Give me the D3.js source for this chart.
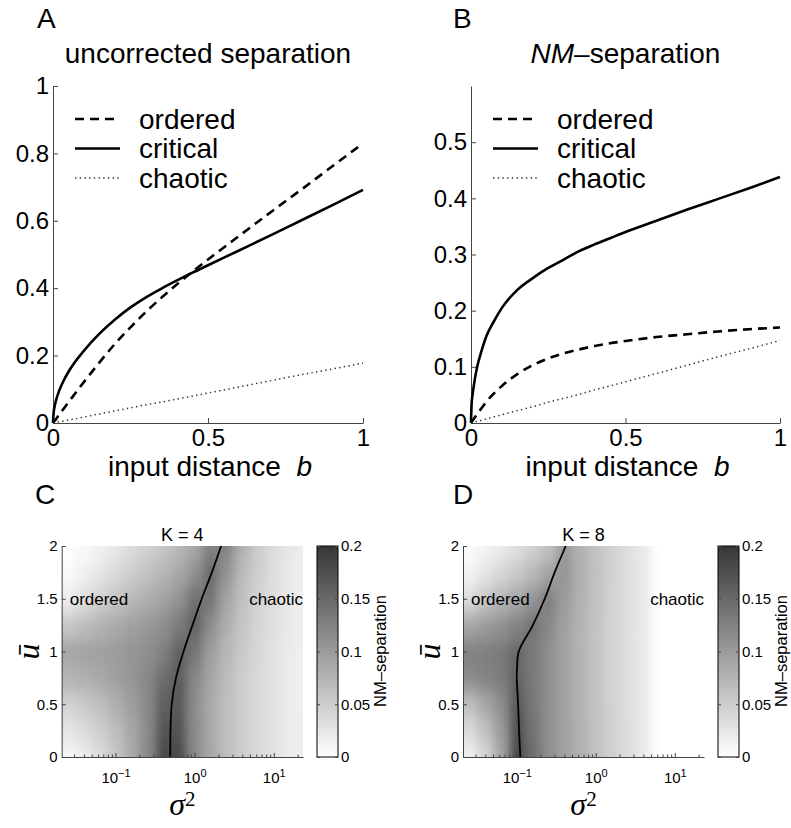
<!DOCTYPE html>
<html>
<head>
<meta charset="utf-8">
<script src="https://cdn.jsdelivr.net/npm/d3@7"></script>
<style>
  body { margin: 0; background: #fff; }
  text { font-family: "Liberation Sans", Arial, Helvetica, sans-serif; fill: #000; }
  .serif { font-family: "Liberation Serif", "DejaVu Serif", serif; font-style: italic; }
</style>
</head>
<body>
<script>
// ---- data ----
const bValues    = [0, 0.002, 0.005, 0.01, 0.02, 0.035, 0.05, 0.075, 0.1, 0.15, 0.2, 0.25, 0.3, 0.35, 0.4, 0.45, 0.5, 0.6, 0.7, 0.8, 0.9, 1];
const aOrdered   = [0, 0.003, 0.006, 0.012, 0.025, 0.043, 0.062, 0.092, 0.122, 0.18, 0.235, 0.284, 0.33, 0.372, 0.412, 0.449, 0.485, 0.555, 0.624, 0.692, 0.761, 0.83];
const aCritical  = [0, 0.03, 0.048, 0.068, 0.096, 0.127, 0.152, 0.186, 0.215, 0.265, 0.307, 0.343, 0.373, 0.399, 0.423, 0.446, 0.468, 0.512, 0.556, 0.601, 0.646, 0.692];
const aChaotic   = [0, 0.0004, 0.0009, 0.0018, 0.0036, 0.0062, 0.009, 0.013, 0.018, 0.027, 0.036, 0.045, 0.054, 0.062, 0.071, 0.080, 0.089, 0.107, 0.125, 0.143, 0.160, 0.178];
const bOrdered   = [0, 0.0015, 0.004, 0.008, 0.016, 0.027, 0.038, 0.053, 0.066, 0.087, 0.103, 0.115, 0.124, 0.131, 0.137, 0.142, 0.146, 0.153, 0.158, 0.163, 0.167, 0.17];
const bCritical  = [0, 0.035, 0.05, 0.07, 0.10, 0.13, 0.155, 0.182, 0.205, 0.237, 0.258, 0.276, 0.291, 0.306, 0.318, 0.329, 0.34, 0.36, 0.38, 0.399, 0.418, 0.438];
const bChaotic   = [0, 0.0003, 0.0007, 0.0015, 0.003, 0.005, 0.0074, 0.011, 0.0147, 0.022, 0.029, 0.037, 0.044, 0.051, 0.059, 0.066, 0.0735, 0.088, 0.103, 0.118, 0.132, 0.147];
const seriesNames = ["ordered", "critical", "chaotic"];
const ticksA = [0, 0.2, 0.4, 0.6, 0.8, 1];
const ticksB = [0, 0.1, 0.2, 0.3, 0.4, 0.5];
const ticksX = [0, 0.5, 1];

// heat maps: columns are log10(sigma^2), rows are u-bar
const sigmaExp = [-1.6, -1.4, -1.2, -1.0, -0.8, -0.6, -0.4, -0.2, 0.0, 0.2, 0.4, 0.6, 0.8, 1.0, 1.2, 1.4];
const uRows = [0, 0.25, 0.5, 0.75, 1, 1.25, 1.5, 1.75, 2];
const heatK4 = [
  [0.008, 0.018, 0.035, 0.055, 0.085, 0.118, 0.18, 0.18, 0.118, 0.088, 0.066, 0.05, 0.038, 0.028, 0.02, 0.015],
  [0.025, 0.035, 0.048, 0.065, 0.088, 0.115, 0.17, 0.172, 0.115, 0.087, 0.066, 0.05, 0.038, 0.028, 0.02, 0.015],
  [0.045, 0.053, 0.065, 0.08, 0.097, 0.118, 0.158, 0.165, 0.115, 0.086, 0.065, 0.05, 0.038, 0.028, 0.02, 0.014],
  [0.075, 0.08, 0.086, 0.095, 0.105, 0.118, 0.145, 0.163, 0.12, 0.09, 0.068, 0.05, 0.038, 0.028, 0.02, 0.014],
  [0.09, 0.092, 0.095, 0.1, 0.105, 0.112, 0.125, 0.158, 0.138, 0.098, 0.073, 0.054, 0.04, 0.029, 0.02, 0.014],
  [0.055, 0.065, 0.075, 0.085, 0.095, 0.103, 0.112, 0.13, 0.158, 0.115, 0.082, 0.058, 0.042, 0.031, 0.022, 0.015],
  [0.018, 0.032, 0.046, 0.058, 0.07, 0.08, 0.092, 0.107, 0.142, 0.138, 0.092, 0.063, 0.045, 0.032, 0.022, 0.015],
  [0.006, 0.014, 0.025, 0.037, 0.05, 0.062, 0.073, 0.087, 0.108, 0.148, 0.108, 0.07, 0.048, 0.033, 0.022, 0.015],
  [0.0, 0.006, 0.014, 0.023, 0.034, 0.045, 0.056, 0.07, 0.088, 0.125, 0.125, 0.079, 0.052, 0.035, 0.024, 0.016]
];
const heatK8 = [
  [0.015, 0.04, 0.09, 0.185, 0.145, 0.112, 0.094, 0.078, 0.062, 0.047, 0.034, 0.022, 0, 0, 0, 0],
  [0.035, 0.062, 0.1, 0.175, 0.14, 0.112, 0.094, 0.078, 0.062, 0.047, 0.034, 0.022, 0, 0, 0, 0],
  [0.065, 0.088, 0.112, 0.165, 0.135, 0.112, 0.093, 0.076, 0.06, 0.045, 0.033, 0.022, 0, 0, 0, 0],
  [0.115, 0.122, 0.13, 0.155, 0.133, 0.112, 0.093, 0.076, 0.06, 0.045, 0.033, 0.022, 0, 0, 0, 0],
  [0.125, 0.127, 0.132, 0.15, 0.133, 0.112, 0.093, 0.076, 0.06, 0.045, 0.033, 0.022, 0, 0, 0, 0],
  [0.09, 0.1, 0.108, 0.122, 0.14, 0.118, 0.095, 0.076, 0.06, 0.045, 0.033, 0.022, 0, 0, 0, 0],
  [0.035, 0.056, 0.072, 0.088, 0.105, 0.128, 0.1, 0.078, 0.061, 0.045, 0.033, 0.022, 0, 0, 0, 0],
  [0.012, 0.025, 0.04, 0.054, 0.07, 0.09, 0.106, 0.08, 0.062, 0.046, 0.033, 0.022, 0, 0, 0, 0],
  [0.003, 0.011, 0.02, 0.031, 0.045, 0.062, 0.1, 0.078, 0.061, 0.046, 0.033, 0.022, 0, 0, 0, 0]
];
// critical lines (sigma^2 at each u-bar)
const critU_K4 = [0, 0.25, 0.5, 0.75, 1, 1.25, 1.5, 1.75, 2];
const critS_K4 = [0.492, 0.495, 0.513, 0.581, 0.724, 0.94, 1.23, 1.65, 2.16];
const critU_K8 = [0, 0.25, 0.5, 0.75, 0.85, 1, 1.25, 1.5, 1.75, 2];
const critS_K8 = [0.111, 0.107, 0.104, 0.1, 0.101, 0.106, 0.16, 0.226, 0.302, 0.417];
const uTicks = [0, 0.5, 1, 1.5, 2];
const sigmaTicks = [0.1, 1, 10];
const sigmaTickExp = ["\u22121", "0", "1"];
const cbTicks = [0, 0.05, 0.1, 0.15, 0.2];

// ---- drawing ----
const svg = d3.select("body").append("svg")
  .attr("width", 791).attr("height", 828);
svg.append("rect").attr("width", 791).attr("height", 828).attr("fill", "#fff");
const defs = svg.append("defs");
const axisColor = "#444";

function styleAxis(g, fs) {
  g.select(".domain").attr("stroke", axisColor);
  g.selectAll(".tick line").attr("stroke", axisColor);
  g.selectAll(".tick text").attr("font-size", fs).attr("fill", "#000")
    .style("font-family", '"Liberation Sans", Arial, sans-serif');
}

function linePanel(p) {
  const x = d3.scaleLinear().domain([0, 1]).range([p.x0, p.x1]);
  const y = d3.scaleLinear().domain([0, p.ymax]).range([p.y1, p.y0]);

  const gx = svg.append("g").attr("transform", "translate(0," + p.y1 + ")")
    .call(d3.axisBottom(x).tickValues(ticksX).tickSize(-5).tickSizeOuter(0).tickPadding(6)
      .tickFormat(d3.format("~g")));
  styleAxis(gx, "24px");
  const gy = svg.append("g").attr("transform", "translate(" + p.x0 + ",0)")
    .call(d3.axisLeft(y).tickValues(p.ticks).tickSize(-5).tickSizeOuter(0).tickPadding(4)
      .tickFormat(d3.format("~g")));
  styleAxis(gy, "24px");

  const line = d3.line().x((d, i) => x(bValues[i])).y(d => y(d)).curve(d3.curveMonotoneX);
  const styles = [
    {dash: "9,6", w: 2.6, c: "#000"},
    {dash: null, w: 2.6, c: "#000"},
    {dash: "1.4,3.3", w: 1.5, c: "#333"}
  ];
  p.series.forEach((s, i) => {
    svg.append("path").datum(s).attr("d", line).attr("fill", "none")
      .attr("stroke", styles[i].c).attr("stroke-width", styles[i].w)
      .attr("stroke-dasharray", styles[i].dash);
  });

  // legend
  seriesNames.forEach((name, i) => {
    const yy = 119 + i * 29.5;
    svg.append("line").attr("x1", p.legX).attr("x2", p.legX + 45).attr("y1", yy).attr("y2", yy)
      .attr("stroke", styles[i].c).attr("stroke-width", styles[i].w)
      .attr("stroke-dasharray", styles[i].dash);
    svg.append("text").attr("x", p.legX + 64).attr("y", yy).attr("dy", "0.35em")
      .attr("font-size", "28px").text(name);
  });

  svg.append("text").attr("x", p.letterX).attr("y", 28).attr("font-size", "28px").text(p.letter);
  const t = svg.append("text").attr("x", (p.x0 + p.x1) / 2).attr("y", 63)
    .attr("text-anchor", "middle").attr("font-size", "28px");
  if (p.italicTitle) {
    t.append("tspan").attr("font-style", "italic").text("NM");
    t.append("tspan").text("\u2013separation");
  } else {
    t.text(p.title);
  }
  const xl = svg.append("text").attr("x", (p.x0 + p.x1) / 2 + 2).attr("y", 476)
    .attr("text-anchor", "middle").attr("font-size", "28px");
  xl.append("tspan").text("input distance\u00a0\u00a0");
  xl.append("tspan").attr("font-style", "italic").text("b");
}

linePanel({x0: 53, x1: 363, y0: 86, y1: 423, ymax: 1, ticks: ticksA,
  series: [aOrdered, aCritical, aChaotic], legX: 75, letter: "A", letterX: 37,
  title: "uncorrected separation"});
linePanel({x0: 471, x1: 780, y0: 86, y1: 423, ymax: 0.6, ticks: ticksB,
  series: [bOrdered, bCritical, bChaotic], legX: 493, letter: "B", letterX: 453,
  italicTitle: true});

const gray = d3.scaleLinear().domain([0, 0.2]).range(["#ffffff", "#363636"]).clamp(true);

function heatPanel(p) {
  const x = d3.scaleLog().domain([0.0209, 23.4]).range([p.x0, p.x1]);
  const y = d3.scaleLinear().domain([0, 2]).range([757, 546]);
  const clipId = "clip" + p.letter;
  defs.append("clipPath").attr("id", clipId).append("rect")
    .attr("x", p.x0).attr("y", 546).attr("width", p.x1 - p.x0).attr("height", 757 - 546);
  const f = defs.append("filter").attr("id", "blur" + p.letter)
    .attr("x", "-10%").attr("y", "-10%").attr("width", "120%").attr("height", "120%");
  f.append("feGaussianBlur").attr("stdDeviation", "5 9").attr("edgeMode", "duplicate");

  const cells = [];
  p.values.forEach((row, r) => row.forEach((v, c) => {
    const e0 = c === 0 ? sigmaExp[c] - 0.5 : sigmaExp[c] - 0.1;
    const e1 = c === sigmaExp.length - 1 ? sigmaExp[c] + 0.5 : sigmaExp[c] + 0.1;
    const u0 = r === 0 ? uRows[r] - 0.5 : uRows[r] - 0.125;
    const u1 = r === uRows.length - 1 ? uRows[r] + 0.5 : uRows[r] + 0.125;
    cells.push({e0, e1, u0, u1, v});
  }));
  svg.append("g").attr("clip-path", "url(#" + clipId + ")")
    .append("g").attr("filter", "url(#blur" + p.letter + ")")
    .selectAll("rect").data(cells).join("rect")
      .attr("x", d => x(Math.pow(10, d.e0)))
      .attr("width", d => x(Math.pow(10, d.e1)) - x(Math.pow(10, d.e0)) + 0.5)
      .attr("y", d => y(d.u1))
      .attr("height", d => y(d.u0) - y(d.u1) + 0.5)
      .attr("fill", d => gray(d.v));

  // critical line
  const line = d3.line().x((d, i) => x(p.critS[i])).y(d => y(d)).curve(d3.curveCatmullRom);
  svg.append("path").datum(p.critU).attr("d", line).attr("fill", "none")
    .attr("stroke", "#000").attr("stroke-width", 1.8);

  // axes
  const gy = svg.append("g").attr("transform", "translate(" + p.x0 + ",0)")
    .call(d3.axisLeft(y).tickValues(uTicks).tickSize(-4).tickSizeOuter(0).tickPadding(4)
      .tickFormat(d3.format("~g")));
  styleAxis(gy, "15px");
  const minors = [];
  [0.01, 0.1, 1, 10].forEach(dec => d3.range(2, 10).forEach(k => {
    const v = dec * k; if (v > 0.0209 && v < 23.4) minors.push(v);
  }));
  const gm = svg.append("g").attr("transform", "translate(0,757)")
    .call(d3.axisBottom(x).tickValues(minors).tickSize(-2.5).tickFormat(""));
  gm.select(".domain").remove();
  gm.selectAll(".tick line").attr("stroke", axisColor);
  const gx = svg.append("g").attr("transform", "translate(0,757)")
    .call(d3.axisBottom(x).tickValues(sigmaTicks).tickSize(-4).tickSizeOuter(0).tickPadding(9)
      .tickFormat(""));
  styleAxis(gx, "15px");
  gx.selectAll(".tick text").each(function(d, i) {
    const t = d3.select(this).attr("dy", "1.15em");
    t.append("tspan").text("10");
    t.append("tspan").attr("dy", "-0.55em").attr("font-size", "11px").text(sigmaTickExp[i]);
  });

  // colorbar
  const cbY = d3.scaleLinear().domain([0, 0.2]).range([757, 546]);
  const gid = "grad" + p.letter;
  const lg = defs.append("linearGradient").attr("id", gid)
    .attr("x1", 0).attr("x2", 0).attr("y1", 1).attr("y2", 0);
  cbTicks.forEach(v => lg.append("stop").attr("offset", v / 0.2).attr("stop-color", gray(v)));
  svg.append("rect").attr("x", p.cb).attr("y", 546).attr("width", 21).attr("height", 211)
    .attr("fill", "url(#" + gid + ")").attr("stroke", "#000").attr("stroke-width", 1);
  const gc = svg.append("g").attr("transform", "translate(" + (p.cb + 21) + ",0)")
    .call(d3.axisRight(cbY).tickValues(cbTicks).tickSize(-3).tickSizeOuter(0).tickPadding(3)
      .tickFormat(d3.format("~g")));
  styleAxis(gc, "15px");
  gc.select(".domain").remove();
  svg.append("g").attr("transform", "translate(" + p.cb + ",0)")
    .call(d3.axisLeft(cbY).tickValues(cbTicks).tickSize(-3).tickFormat(""))
    .call(g => { g.select(".domain").remove(); g.selectAll("line").attr("stroke", axisColor); });
  svg.append("text").attr("transform", "translate(" + p.cbLabel + ",651) rotate(-90)")
    .attr("text-anchor", "middle").attr("font-size", "16.5px").text("NM\u2013separation");

  // texts
  svg.append("text").attr("x", p.letterX).attr("y", 504).attr("font-size", "28px").text(p.letter);
  svg.append("text").attr("x", (p.x0 + p.x1) / 2).attr("y", 541).attr("text-anchor", "middle")
    .attr("font-size", "18px").text(p.title);
  svg.append("text").attr("x", p.x0 + 8).attr("y", y(1.5)).attr("dy", "0.35em")
    .attr("font-size", "17px").text("ordered");
  svg.append("text").attr("x", p.x1).attr("y", y(1.5)).attr("dy", "0.35em")
    .attr("text-anchor", "end").attr("font-size", "17px").text("chaotic");
  svg.append("text").attr("class", "serif")
    .attr("transform", "translate(" + (p.x0 - 34) + "," + y(1) + ") rotate(-90)")
    .attr("text-anchor", "middle").attr("dy", "0.35em").attr("font-size", "32px").text("u\u0304");
  const sl = svg.append("text").attr("x", (p.x0 + p.x1) / 2).attr("y", 815)
    .attr("text-anchor", "middle").attr("font-size", "32px");
  sl.append("tspan").attr("class", "serif").text("\u03c3");
  sl.append("tspan").attr("dy", "-0.45em").attr("font-size", "21px")
    .style("font-family", '"Liberation Serif", serif').text("2");
}

heatPanel({x0: 61.7, x1: 303, cb: 317, cbLabel: 386, letter: "C", letterX: 35,
  title: "K = 4", values: heatK4, critU: critU_K4, critS: critS_K4});
heatPanel({x0: 463, x1: 704, cb: 718, cbLabel: 787, letter: "D", letterX: 453,
  title: "K = 8", values: heatK8, critU: critU_K8, critS: critS_K8});
</script>
</body>
</html>
